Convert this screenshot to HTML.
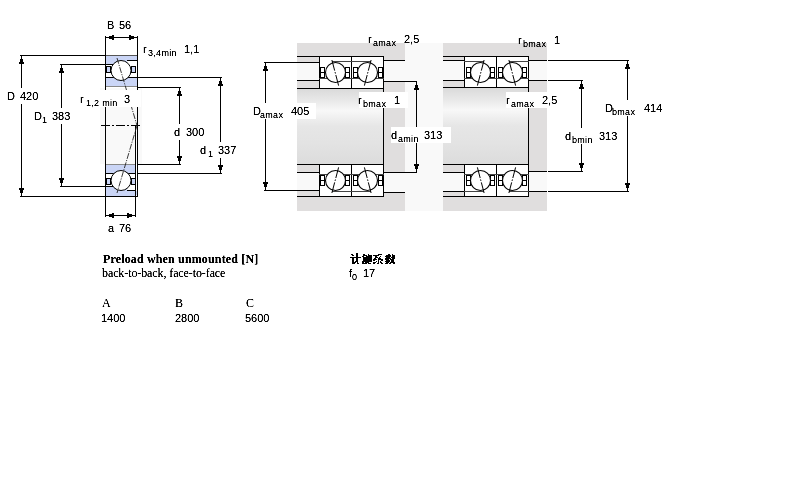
<!DOCTYPE html>
<html><head><meta charset="utf-8"><style>
html,body{margin:0;padding:0;background:#fff;width:800px;height:500px;overflow:hidden}
svg{display:block}
text{font-family:"Liberation Sans",sans-serif;fill:#000}
text.sub{letter-spacing:0.3px}
text.s{font-family:"Liberation Serif",serif}
text.s2{font-family:"Liberation Serif",serif;letter-spacing:-0.1px}
text.sb{font-family:"Liberation Serif",serif;font-weight:bold;letter-spacing:0.15px}
</style></head><body>
<svg width="800" height="500" viewBox="0 0 800 500" shape-rendering="crispEdges">
<defs><filter id="bin" x="0" y="0" width="800" height="500" filterUnits="userSpaceOnUse" color-interpolation-filters="sRGB"><feComponentTransfer><feFuncA type="table" tableValues="0 0.15 0.75 1 1"/></feComponentTransfer></filter></defs>
<rect width="800" height="500" fill="#fff"/>
<rect x="20" y="55" width="85" height="1" fill="#000"/>
<rect x="20" y="196" width="85" height="1" fill="#000"/>
<rect x="21" y="56" width="1" height="140" fill="#000"/>
<path d="M21.5,56 L24,64 L19,64 Z" fill="#000"/>
<path d="M21.5,196 L24,188 L19,188 Z" fill="#000"/>
<rect x="60" y="64" width="45" height="1" fill="#000"/>
<rect x="60" y="186" width="45" height="1" fill="#000"/>
<rect x="61" y="65" width="1" height="121" fill="#000"/>
<path d="M61.5,65 L64,73 L59,73 Z" fill="#000"/>
<path d="M61.5,186 L64,178 L59,178 Z" fill="#000"/>
<rect x="105" y="36" width="1" height="19" fill="#000"/>
<rect x="137" y="36" width="1" height="19" fill="#000"/>
<rect x="106" y="37" width="31" height="1" fill="#000"/>
<path d="M106,37.5 L114,35 L114,40 Z" fill="#000"/>
<path d="M137,37.5 L129,35 L129,40 Z" fill="#000"/>
<rect x="138" y="77" width="84" height="1" fill="#000"/>
<rect x="138" y="173" width="84" height="1" fill="#000"/>
<rect x="220" y="78" width="1" height="95" fill="#000"/>
<path d="M220.5,78 L223,86 L218,86 Z" fill="#000"/>
<path d="M220.5,173 L223,165 L218,165 Z" fill="#000"/>
<rect x="138" y="87" width="43" height="1" fill="#000"/>
<rect x="138" y="164" width="43" height="1" fill="#000"/>
<rect x="179" y="88" width="1" height="76" fill="#000"/>
<path d="M179.5,88 L182,96 L177,96 Z" fill="#000"/>
<path d="M179.5,164 L182,156 L177,156 Z" fill="#000"/>
<rect x="105" y="197" width="1" height="20" fill="#000"/>
<rect x="135" y="197" width="1" height="20" fill="#000"/>
<rect x="106" y="215" width="29" height="1" fill="#000"/>
<path d="M106,215.5 L114,213 L114,218 Z" fill="#000"/>
<path d="M135,215.5 L127,213 L127,218 Z" fill="#000"/>
<rect x="100" y="88" width="42" height="76" fill="#f9f9f9"/>
<rect x="105" y="87" width="1" height="78" fill="#000"/>
<rect x="137" y="56" width="1" height="109" fill="#000"/>
<rect x="135" y="125" width="1" height="40" fill="#000"/>
<line x1="101" y1="125.5" x2="141" y2="125.5" stroke="#000" stroke-width="1" stroke-dasharray="9,2,2,2" shape-rendering="auto"/>
<g >
<rect x="105" y="56" width="33" height="31" fill="#fff"/>
<rect x="106" y="56" width="31" height="8" fill="#cad5f6"/>
<rect x="127" y="60" width="10" height="4" fill="#fff"/>
<rect x="106" y="55" width="31" height="1" fill="#555"/>
<rect x="105" y="64" width="9" height="1" fill="#000"/>
<rect x="127" y="60" width="11" height="1" fill="#000"/>
<rect x="106" y="78" width="31" height="8" fill="#cad5f6"/>
<rect x="105" y="77" width="33" height="1" fill="#000"/>
<rect x="105" y="86" width="33" height="1" fill="#888"/>
<rect x="106" y="66" width="5" height="7" fill="#000"/>
<rect x="107" y="67" width="3" height="5" fill="#cad5f6"/>
<rect x="131" y="66" width="5" height="7" fill="#000"/>
<rect x="132" y="67" width="3" height="5" fill="#cad5f6"/>
<rect x="105" y="55" width="1" height="33" fill="#000"/>
<rect x="137" y="55" width="1" height="33" fill="#000"/>
<circle cx="121" cy="70.5" r="10" fill="#fff" stroke="#000" stroke-width="1" shape-rendering="auto"/>
</g>
<g transform="translate(0,251) scale(1,-1)">
<rect x="105" y="56" width="33" height="31" fill="#fff"/>
<rect x="106" y="56" width="31" height="8" fill="#cad5f6"/>
<rect x="127" y="60" width="10" height="4" fill="#fff"/>
<rect x="105" y="64" width="9" height="1" fill="#000"/>
<rect x="127" y="60" width="11" height="1" fill="#000"/>
<rect x="106" y="78" width="31" height="8" fill="#cad5f6"/>
<rect x="105" y="77" width="33" height="1" fill="#000"/>
<rect x="105" y="86" width="33" height="1" fill="#888"/>
<rect x="106" y="66" width="5" height="7" fill="#000"/>
<rect x="107" y="67" width="3" height="5" fill="#cad5f6"/>
<rect x="131" y="66" width="5" height="7" fill="#000"/>
<rect x="132" y="67" width="3" height="5" fill="#cad5f6"/>
<rect x="105" y="55" width="1" height="33" fill="#000"/>
<rect x="137" y="55" width="1" height="33" fill="#000"/>
<circle cx="121" cy="70.5" r="10" fill="#fff" stroke="#000" stroke-width="1" shape-rendering="auto"/>
</g>
<rect x="106" y="195" width="30" height="1" fill="#cad5f6"/>
<rect x="136" y="164" width="1" height="27" fill="#fff"/>
<rect x="105" y="196" width="33" height="1" fill="#000"/>
<rect x="105" y="163" width="1" height="34" fill="#000"/>
<rect x="135" y="164" width="1" height="33" fill="#000"/>
<rect x="137" y="164" width="1" height="33" fill="#000"/>
<line x1="117" y1="58" x2="137" y2="125.5" stroke="#222" stroke-width="0.9" stroke-dasharray="6,1.2,1.2,1.2" shape-rendering="auto"/>
<line x1="137" y1="125.5" x2="117" y2="193" stroke="#222" stroke-width="0.9" stroke-dasharray="6,1.2,1.2,1.2" shape-rendering="auto"/>
<rect x="297" y="43" width="108" height="168" fill="#e0dede"/>
<rect x="405" y="43" width="38" height="168" fill="#f9f9f9"/>
<defs><linearGradient id="sh" x1="0" y1="0" x2="0" y2="1"><stop offset="0" stop-color="#dadada"/><stop offset="0.15" stop-color="#e8e8e8"/><stop offset="0.29" stop-color="#f8f8f8"/><stop offset="0.4" stop-color="#eeeeee"/><stop offset="0.5" stop-color="#e6e6e6"/><stop offset="0.72" stop-color="#e3e3e3"/><stop offset="1" stop-color="#dcdcdc"/></linearGradient></defs>
<rect x="297" y="89" width="86" height="75" fill="url(#sh)"/>
<rect x="297" y="56" width="22" height="1" fill="#000"/>
<rect x="297" y="62" width="22" height="1" fill="#000"/>
<rect x="297" y="63" width="22" height="17" fill="#f9f9f9"/>
<rect x="297" y="80" width="22" height="1" fill="#000"/>
<rect x="297" y="88" width="87" height="1" fill="#000"/>
<rect x="297" y="164" width="87" height="1" fill="#000"/>
<rect x="297" y="172" width="22" height="1" fill="#000"/>
<rect x="297" y="173" width="22" height="17" fill="#f9f9f9"/>
<rect x="297" y="190" width="22" height="1" fill="#000"/>
<rect x="297" y="196" width="22" height="1" fill="#000"/>
<rect x="384" y="81" width="33" height="1" fill="#000"/>
<rect x="384" y="61" width="21" height="20" fill="#f9f9f9"/>
<rect x="384" y="60" width="21" height="1" fill="#000"/>
<rect x="384" y="172" width="33" height="1" fill="#000"/>
<rect x="384" y="173" width="21" height="19" fill="#f9f9f9"/>
<rect x="384" y="192" width="21" height="1" fill="#000"/>
<rect x="383" y="88" width="1" height="77" fill="#000"/>
<g transform="translate(319,56) scale(1,1)">
<rect x="0" y="0" width="33" height="33" fill="#fff"/>
<rect x="0" y="0" width="33" height="1" fill="#000"/>
<rect x="0" y="32" width="33" height="1" fill="#000"/>
<rect x="0" y="0" width="1" height="33" fill="#000"/>
<rect x="32" y="0" width="1" height="33" fill="#000"/>
<rect x="13" y="5" width="20" height="1" fill="#444"/>
<rect x="0" y="22" width="11" height="1" fill="#444"/>
<rect x="22" y="22" width="11" height="1" fill="#444"/>
<rect x="1" y="11" width="5" height="1" fill="#000"/>
<rect x="1" y="16" width="5" height="1" fill="#000"/>
<rect x="1" y="21" width="5" height="1" fill="#000"/>
<rect x="1" y="11" width="1" height="11" fill="#000"/>
<rect x="5" y="11" width="1" height="11" fill="#000"/>
<rect x="26" y="11" width="5" height="1" fill="#000"/>
<rect x="26" y="16" width="5" height="1" fill="#000"/>
<rect x="26" y="21" width="5" height="1" fill="#000"/>
<rect x="26" y="11" width="1" height="11" fill="#000"/>
<rect x="30" y="11" width="1" height="11" fill="#000"/>
<circle cx="16.5" cy="16.5" r="10" fill="#fff" stroke="#000" stroke-width="1.1" shape-rendering="auto"/>
<line x1="12.9" y1="4" x2="19.7" y2="30" stroke="#000" stroke-width="1" stroke-dasharray="11,1.5,1.5,1.5" shape-rendering="auto"/>
</g>
<g transform="translate(384,56) scale(-1,1)">
<rect x="0" y="0" width="33" height="33" fill="#fff"/>
<rect x="0" y="0" width="33" height="1" fill="#000"/>
<rect x="0" y="32" width="33" height="1" fill="#000"/>
<rect x="0" y="0" width="1" height="33" fill="#000"/>
<rect x="32" y="0" width="1" height="33" fill="#000"/>
<rect x="13" y="5" width="20" height="1" fill="#444"/>
<rect x="0" y="22" width="11" height="1" fill="#444"/>
<rect x="22" y="22" width="11" height="1" fill="#444"/>
<rect x="1" y="11" width="5" height="1" fill="#000"/>
<rect x="1" y="16" width="5" height="1" fill="#000"/>
<rect x="1" y="21" width="5" height="1" fill="#000"/>
<rect x="1" y="11" width="1" height="11" fill="#000"/>
<rect x="5" y="11" width="1" height="11" fill="#000"/>
<rect x="26" y="11" width="5" height="1" fill="#000"/>
<rect x="26" y="16" width="5" height="1" fill="#000"/>
<rect x="26" y="21" width="5" height="1" fill="#000"/>
<rect x="26" y="11" width="1" height="11" fill="#000"/>
<rect x="30" y="11" width="1" height="11" fill="#000"/>
<circle cx="16.5" cy="16.5" r="10" fill="#fff" stroke="#000" stroke-width="1.1" shape-rendering="auto"/>
<line x1="12.9" y1="4" x2="19.7" y2="30" stroke="#000" stroke-width="1" stroke-dasharray="11,1.5,1.5,1.5" shape-rendering="auto"/>
</g>
<g transform="translate(319,197) scale(1,-1)">
<rect x="0" y="0" width="33" height="33" fill="#fff"/>
<rect x="0" y="0" width="33" height="1" fill="#000"/>
<rect x="0" y="32" width="33" height="1" fill="#000"/>
<rect x="0" y="0" width="1" height="33" fill="#000"/>
<rect x="32" y="0" width="1" height="33" fill="#000"/>
<rect x="13" y="5" width="20" height="1" fill="#444"/>
<rect x="0" y="22" width="11" height="1" fill="#444"/>
<rect x="22" y="22" width="11" height="1" fill="#444"/>
<rect x="1" y="11" width="5" height="1" fill="#000"/>
<rect x="1" y="16" width="5" height="1" fill="#000"/>
<rect x="1" y="21" width="5" height="1" fill="#000"/>
<rect x="1" y="11" width="1" height="11" fill="#000"/>
<rect x="5" y="11" width="1" height="11" fill="#000"/>
<rect x="26" y="11" width="5" height="1" fill="#000"/>
<rect x="26" y="16" width="5" height="1" fill="#000"/>
<rect x="26" y="21" width="5" height="1" fill="#000"/>
<rect x="26" y="11" width="1" height="11" fill="#000"/>
<rect x="30" y="11" width="1" height="11" fill="#000"/>
<circle cx="16.5" cy="16.5" r="10" fill="#fff" stroke="#000" stroke-width="1.1" shape-rendering="auto"/>
<line x1="12.9" y1="4" x2="19.7" y2="30" stroke="#000" stroke-width="1" stroke-dasharray="11,1.5,1.5,1.5" shape-rendering="auto"/>
</g>
<g transform="translate(384,197) scale(-1,-1)">
<rect x="0" y="0" width="33" height="33" fill="#fff"/>
<rect x="0" y="0" width="33" height="1" fill="#000"/>
<rect x="0" y="32" width="33" height="1" fill="#000"/>
<rect x="0" y="0" width="1" height="33" fill="#000"/>
<rect x="32" y="0" width="1" height="33" fill="#000"/>
<rect x="13" y="5" width="20" height="1" fill="#444"/>
<rect x="0" y="22" width="11" height="1" fill="#444"/>
<rect x="22" y="22" width="11" height="1" fill="#444"/>
<rect x="1" y="11" width="5" height="1" fill="#000"/>
<rect x="1" y="16" width="5" height="1" fill="#000"/>
<rect x="1" y="21" width="5" height="1" fill="#000"/>
<rect x="1" y="11" width="1" height="11" fill="#000"/>
<rect x="5" y="11" width="1" height="11" fill="#000"/>
<rect x="26" y="11" width="5" height="1" fill="#000"/>
<rect x="26" y="16" width="5" height="1" fill="#000"/>
<rect x="26" y="21" width="5" height="1" fill="#000"/>
<rect x="26" y="11" width="1" height="11" fill="#000"/>
<rect x="30" y="11" width="1" height="11" fill="#000"/>
<circle cx="16.5" cy="16.5" r="10" fill="#fff" stroke="#000" stroke-width="1.1" shape-rendering="auto"/>
<line x1="12.9" y1="4" x2="19.7" y2="30" stroke="#000" stroke-width="1" stroke-dasharray="11,1.5,1.5,1.5" shape-rendering="auto"/>
</g>
<rect x="264" y="62" width="33" height="1" fill="#000"/>
<rect x="264" y="190" width="33" height="1" fill="#000"/>
<rect x="265" y="63" width="1" height="127" fill="#000"/>
<path d="M265.5,63 L268,71 L263,71 Z" fill="#000"/>
<path d="M265.5,190 L268,182 L263,182 Z" fill="#000"/>
<rect x="416" y="82" width="1" height="90" fill="#000"/>
<path d="M416.5,82 L419,90 L414,90 Z" fill="#000"/>
<path d="M416.5,172 L419,164 L414,164 Z" fill="#000"/>
<rect x="443" y="43" width="104" height="168" fill="#e0dede"/>
<rect x="443" y="88" width="85" height="76" fill="url(#sh)"/>
<rect x="443" y="56" width="21" height="1" fill="#000"/>
<rect x="443" y="60" width="21" height="1" fill="#000"/>
<rect x="443" y="61" width="21" height="19" fill="#f9f9f9"/>
<rect x="443" y="80" width="21" height="1" fill="#000"/>
<rect x="443" y="87" width="86" height="1" fill="#000"/>
<rect x="443" y="164" width="86" height="1" fill="#000"/>
<rect x="443" y="172" width="21" height="1" fill="#000"/>
<rect x="443" y="173" width="21" height="18" fill="#f9f9f9"/>
<rect x="443" y="191" width="21" height="1" fill="#000"/>
<rect x="443" y="196" width="21" height="1" fill="#000"/>
<rect x="529" y="60" width="18" height="1" fill="#000"/>
<rect x="548" y="60" width="81" height="1" fill="#000"/>
<rect x="529" y="61" width="18" height="19" fill="#f9f9f9"/>
<rect x="529" y="80" width="18" height="1" fill="#000"/>
<rect x="548" y="80" width="35" height="1" fill="#000"/>
<rect x="529" y="171" width="18" height="1" fill="#000"/>
<rect x="548" y="171" width="35" height="1" fill="#000"/>
<rect x="529" y="172" width="18" height="19" fill="#f9f9f9"/>
<rect x="529" y="191" width="18" height="1" fill="#000"/>
<rect x="548" y="191" width="81" height="1" fill="#000"/>
<rect x="528" y="87" width="1" height="78" fill="#000"/>
<g transform="translate(497,56) scale(-1,1)">
<rect x="0" y="0" width="33" height="32" fill="#fff"/>
<rect x="0" y="0" width="33" height="1" fill="#000"/>
<rect x="0" y="31" width="33" height="1" fill="#000"/>
<rect x="0" y="0" width="1" height="32" fill="#000"/>
<rect x="32" y="0" width="1" height="32" fill="#000"/>
<rect x="13" y="5" width="20" height="1" fill="#444"/>
<rect x="0" y="22" width="11" height="1" fill="#444"/>
<rect x="22" y="22" width="11" height="1" fill="#444"/>
<rect x="2" y="11" width="5" height="1" fill="#000"/>
<rect x="2" y="16" width="5" height="1" fill="#000"/>
<rect x="2" y="21" width="5" height="1" fill="#000"/>
<rect x="2" y="11" width="1" height="11" fill="#000"/>
<rect x="6" y="11" width="1" height="11" fill="#000"/>
<rect x="26" y="11" width="5" height="1" fill="#000"/>
<rect x="26" y="16" width="5" height="1" fill="#000"/>
<rect x="26" y="21" width="5" height="1" fill="#000"/>
<rect x="26" y="11" width="1" height="11" fill="#000"/>
<rect x="30" y="11" width="1" height="11" fill="#000"/>
<circle cx="16.5" cy="16.5" r="10" fill="#fff" stroke="#000" stroke-width="1.1" shape-rendering="auto"/>
<line x1="12.9" y1="4" x2="19.7" y2="30" stroke="#000" stroke-width="1" stroke-dasharray="11,1.5,1.5,1.5" shape-rendering="auto"/>
</g>
<g transform="translate(496,56) scale(1,1)">
<rect x="0" y="0" width="33" height="32" fill="#fff"/>
<rect x="0" y="0" width="33" height="1" fill="#000"/>
<rect x="0" y="31" width="33" height="1" fill="#000"/>
<rect x="0" y="0" width="1" height="32" fill="#000"/>
<rect x="32" y="0" width="1" height="32" fill="#000"/>
<rect x="13" y="5" width="20" height="1" fill="#444"/>
<rect x="0" y="22" width="11" height="1" fill="#444"/>
<rect x="22" y="22" width="11" height="1" fill="#444"/>
<rect x="2" y="11" width="5" height="1" fill="#000"/>
<rect x="2" y="16" width="5" height="1" fill="#000"/>
<rect x="2" y="21" width="5" height="1" fill="#000"/>
<rect x="2" y="11" width="1" height="11" fill="#000"/>
<rect x="6" y="11" width="1" height="11" fill="#000"/>
<rect x="26" y="11" width="5" height="1" fill="#000"/>
<rect x="26" y="16" width="5" height="1" fill="#000"/>
<rect x="26" y="21" width="5" height="1" fill="#000"/>
<rect x="26" y="11" width="1" height="11" fill="#000"/>
<rect x="30" y="11" width="1" height="11" fill="#000"/>
<circle cx="16.5" cy="16.5" r="10" fill="#fff" stroke="#000" stroke-width="1.1" shape-rendering="auto"/>
<line x1="12.9" y1="4" x2="19.7" y2="30" stroke="#000" stroke-width="1" stroke-dasharray="11,1.5,1.5,1.5" shape-rendering="auto"/>
</g>
<g transform="translate(497,197) scale(-1,-1)">
<rect x="0" y="0" width="33" height="33" fill="#fff"/>
<rect x="0" y="0" width="33" height="1" fill="#000"/>
<rect x="0" y="32" width="33" height="1" fill="#000"/>
<rect x="0" y="0" width="1" height="33" fill="#000"/>
<rect x="32" y="0" width="1" height="33" fill="#000"/>
<rect x="13" y="5" width="20" height="1" fill="#444"/>
<rect x="0" y="22" width="11" height="1" fill="#444"/>
<rect x="22" y="22" width="11" height="1" fill="#444"/>
<rect x="2" y="11" width="5" height="1" fill="#000"/>
<rect x="2" y="16" width="5" height="1" fill="#000"/>
<rect x="2" y="21" width="5" height="1" fill="#000"/>
<rect x="2" y="11" width="1" height="11" fill="#000"/>
<rect x="6" y="11" width="1" height="11" fill="#000"/>
<rect x="26" y="11" width="5" height="1" fill="#000"/>
<rect x="26" y="16" width="5" height="1" fill="#000"/>
<rect x="26" y="21" width="5" height="1" fill="#000"/>
<rect x="26" y="11" width="1" height="11" fill="#000"/>
<rect x="30" y="11" width="1" height="11" fill="#000"/>
<circle cx="16.5" cy="16.5" r="10" fill="#fff" stroke="#000" stroke-width="1.1" shape-rendering="auto"/>
<line x1="12.9" y1="4" x2="19.7" y2="30" stroke="#000" stroke-width="1" stroke-dasharray="11,1.5,1.5,1.5" shape-rendering="auto"/>
</g>
<g transform="translate(496,197) scale(1,-1)">
<rect x="0" y="0" width="33" height="33" fill="#fff"/>
<rect x="0" y="0" width="33" height="1" fill="#000"/>
<rect x="0" y="32" width="33" height="1" fill="#000"/>
<rect x="0" y="0" width="1" height="33" fill="#000"/>
<rect x="32" y="0" width="1" height="33" fill="#000"/>
<rect x="13" y="5" width="20" height="1" fill="#444"/>
<rect x="0" y="22" width="11" height="1" fill="#444"/>
<rect x="22" y="22" width="11" height="1" fill="#444"/>
<rect x="2" y="11" width="5" height="1" fill="#000"/>
<rect x="2" y="16" width="5" height="1" fill="#000"/>
<rect x="2" y="21" width="5" height="1" fill="#000"/>
<rect x="2" y="11" width="1" height="11" fill="#000"/>
<rect x="6" y="11" width="1" height="11" fill="#000"/>
<rect x="26" y="11" width="5" height="1" fill="#000"/>
<rect x="26" y="16" width="5" height="1" fill="#000"/>
<rect x="26" y="21" width="5" height="1" fill="#000"/>
<rect x="26" y="11" width="1" height="11" fill="#000"/>
<rect x="30" y="11" width="1" height="11" fill="#000"/>
<circle cx="16.5" cy="16.5" r="10" fill="#fff" stroke="#000" stroke-width="1.1" shape-rendering="auto"/>
<line x1="12.9" y1="4" x2="19.7" y2="30" stroke="#000" stroke-width="1" stroke-dasharray="11,1.5,1.5,1.5" shape-rendering="auto"/>
</g>
<rect x="627" y="61" width="1" height="130" fill="#000"/>
<path d="M627.5,61 L630,69 L625,69 Z" fill="#000"/>
<path d="M627.5,191 L630,183 L625,183 Z" fill="#000"/>
<rect x="581" y="81" width="1" height="90" fill="#000"/>
<path d="M581.5,81 L584,89 L579,89 Z" fill="#000"/>
<path d="M581.5,171 L584,163 L579,163 Z" fill="#000"/>
<rect x="5" y="88" width="35" height="16" fill="#fff"/><rect x="32" y="108" width="40" height="16" fill="#fff"/><rect x="78" y="90" width="63" height="17" fill="#fff"/><rect x="172" y="124" width="34" height="16" fill="#fff"/><rect x="199" y="142" width="39" height="16" fill="#fff"/><rect x="250" y="103" width="66" height="16" fill="#fff"/><rect x="359" y="92" width="49" height="16" fill="#fff"/><rect x="391" y="127" width="60" height="16" fill="#fff"/><rect x="506" y="92" width="56" height="16" fill="#fff"/><rect x="600" y="100" width="70" height="16" fill="#fff"/><rect x="563" y="128" width="59" height="16" fill="#fff"/>
<g filter="url(#bin)">
<text x="7" y="100" font-size="11">D</text>
<text x="20" y="100" font-size="11">420</text>
<text x="34" y="120" font-size="11">D</text>
<text x="42" y="123" font-size="9" class="sub">1</text>
<text x="52" y="120" font-size="11">383</text>
<text x="80" y="103" font-size="11">r</text>
<text x="86" y="106" font-size="9" class="sub">1,2 min</text>
<text x="124" y="103" font-size="11">3</text>
<text x="174" y="136" font-size="11">d</text>
<text x="186" y="136" font-size="11">300</text>
<text x="200" y="154" font-size="11">d</text>
<text x="208" y="157" font-size="9" class="sub">1</text>
<text x="218" y="154" font-size="11">337</text>
<text x="107" y="29" font-size="11">B</text>
<text x="119" y="29" font-size="11">56</text>
<text x="143" y="53" font-size="11">r</text>
<text x="148" y="56" font-size="9" class="sub">3,4min</text>
<text x="184" y="53" font-size="11">1,1</text>
<text x="108" y="232" font-size="11">a</text>
<text x="119" y="232" font-size="11">76</text>
<text x="253" y="115" font-size="11">D</text>
<text x="260" y="118" font-size="9" class="sub">amax</text>
<text x="291" y="115" font-size="11">405</text>
<text x="358" y="104" font-size="11">r</text>
<text x="363" y="107" font-size="9" class="sub">bmax</text>
<text x="394" y="104" font-size="11">1</text>
<text x="391" y="139" font-size="11">d</text>
<text x="398" y="142" font-size="9" class="sub">amin</text>
<text x="424" y="139" font-size="11">313</text>
<text x="368" y="43" font-size="11">r</text>
<text x="373" y="46" font-size="9" class="sub">amax</text>
<text x="404" y="43" font-size="11">2,5</text>
<text x="518" y="44" font-size="11">r</text>
<text x="523" y="47" font-size="9" class="sub">bmax</text>
<text x="554" y="44" font-size="11">1</text>
<text x="506" y="104" font-size="11">r</text>
<text x="511" y="107" font-size="9" class="sub">amax</text>
<text x="542" y="104" font-size="11">2,5</text>
<text x="605" y="112" font-size="11">D</text>
<text x="612" y="115" font-size="9" class="sub">bmax</text>
<text x="644" y="112" font-size="11">414</text>
<text x="565" y="140" font-size="11">d</text>
<text x="572" y="143" font-size="9" class="sub">bmin</text>
<text x="599" y="140" font-size="11">313</text>
<text x="103" y="263" font-size="12" class="sb">Preload when unmounted [N]</text>
<text x="102" y="277" font-size="12" class="s2">back-to-back, face-to-face</text>
<text x="102" y="307" font-size="12" class="s">A</text>
<text x="175" y="307" font-size="12" class="s">B</text>
<text x="246" y="307" font-size="12" class="s">C</text>
<text x="101" y="322" font-size="11">1400</text>
<text x="175" y="322" font-size="11">2800</text>
<text x="245" y="322" font-size="11">5600</text>
<text x="349" y="277" font-size="11">f</text>
<text x="352" y="280" font-size="9" class="sub">0</text>
<text x="363" y="277" font-size="11">17</text>
</g>
<g fill="#000"><rect x="356" y="253" width="2" height="1"/><rect x="351" y="254" width="2" height="1"/><rect x="356" y="254" width="2" height="1"/><rect x="352" y="255" width="2" height="1"/><rect x="356" y="255" width="2" height="1"/><rect x="356" y="256" width="2" height="1"/><rect x="350" y="257" width="11" height="1"/><rect x="352" y="258" width="2" height="1"/><rect x="356" y="258" width="2" height="1"/><rect x="352" y="259" width="2" height="1"/><rect x="356" y="259" width="2" height="1"/><rect x="352" y="260" width="2" height="1"/><rect x="356" y="260" width="2" height="1"/><rect x="352" y="261" width="2" height="1"/><rect x="355" y="261" width="3" height="1"/><rect x="352" y="262" width="4" height="1"/><rect x="357" y="262" width="1" height="1"/><rect x="352" y="263" width="3" height="1"/><rect x="357" y="263" width="2" height="1"/><rect x="363" y="254" width="2" height="1"/><rect x="368" y="254" width="1" height="1"/><rect x="363" y="255" width="4" height="1"/><rect x="368" y="255" width="4" height="1"/><rect x="362" y="256" width="2" height="1"/><rect x="366" y="256" width="6" height="1"/><rect x="363" y="257" width="9" height="1"/><rect x="363" y="258" width="9" height="1"/><rect x="363" y="259" width="9" height="1"/><rect x="363" y="260" width="9" height="1"/><rect x="362" y="261" width="10" height="1"/><rect x="362" y="262" width="2" height="1"/><rect x="365" y="262" width="4" height="1"/><rect x="362" y="263" width="5" height="1"/><rect x="368" y="263" width="3" height="1"/><rect x="378" y="254" width="4" height="1"/><rect x="373" y="255" width="6" height="1"/><rect x="375" y="256" width="2" height="1"/><rect x="380" y="256" width="1" height="1"/><rect x="375" y="257" width="3" height="1"/><rect x="379" y="257" width="1" height="1"/><rect x="374" y="258" width="2" height="1"/><rect x="378" y="258" width="3" height="1"/><rect x="373" y="259" width="4" height="1"/><rect x="378" y="259" width="5" height="1"/><rect x="373" y="260" width="2" height="1"/><rect x="378" y="260" width="1" height="1"/><rect x="381" y="260" width="2" height="1"/><rect x="376" y="261" width="1" height="1"/><rect x="378" y="261" width="1" height="1"/><rect x="380" y="261" width="1" height="1"/><rect x="373" y="262" width="3" height="1"/><rect x="378" y="262" width="1" height="1"/><rect x="380" y="262" width="2" height="1"/><rect x="373" y="263" width="2" height="1"/><rect x="377" y="263" width="2" height="1"/><rect x="381" y="263" width="2" height="1"/><rect x="388" y="254" width="2" height="1"/><rect x="392" y="254" width="1" height="1"/><rect x="386" y="255" width="5" height="1"/><rect x="392" y="255" width="3" height="1"/><rect x="385" y="256" width="6" height="1"/><rect x="392" y="256" width="3" height="1"/><rect x="386" y="257" width="4" height="1"/><rect x="391" y="257" width="4" height="1"/><rect x="385" y="258" width="6" height="1"/><rect x="392" y="258" width="3" height="1"/><rect x="385" y="259" width="4" height="1"/><rect x="390" y="259" width="4" height="1"/><rect x="386" y="260" width="4" height="1"/><rect x="391" y="260" width="3" height="1"/><rect x="385" y="261" width="5" height="1"/><rect x="391" y="261" width="3" height="1"/><rect x="386" y="262" width="3" height="1"/><rect x="390" y="262" width="5" height="1"/><rect x="385" y="263" width="3" height="1"/><rect x="389" y="263" width="2" height="1"/><rect x="393" y="263" width="2" height="1"/></g>
</svg>
</body></html>
